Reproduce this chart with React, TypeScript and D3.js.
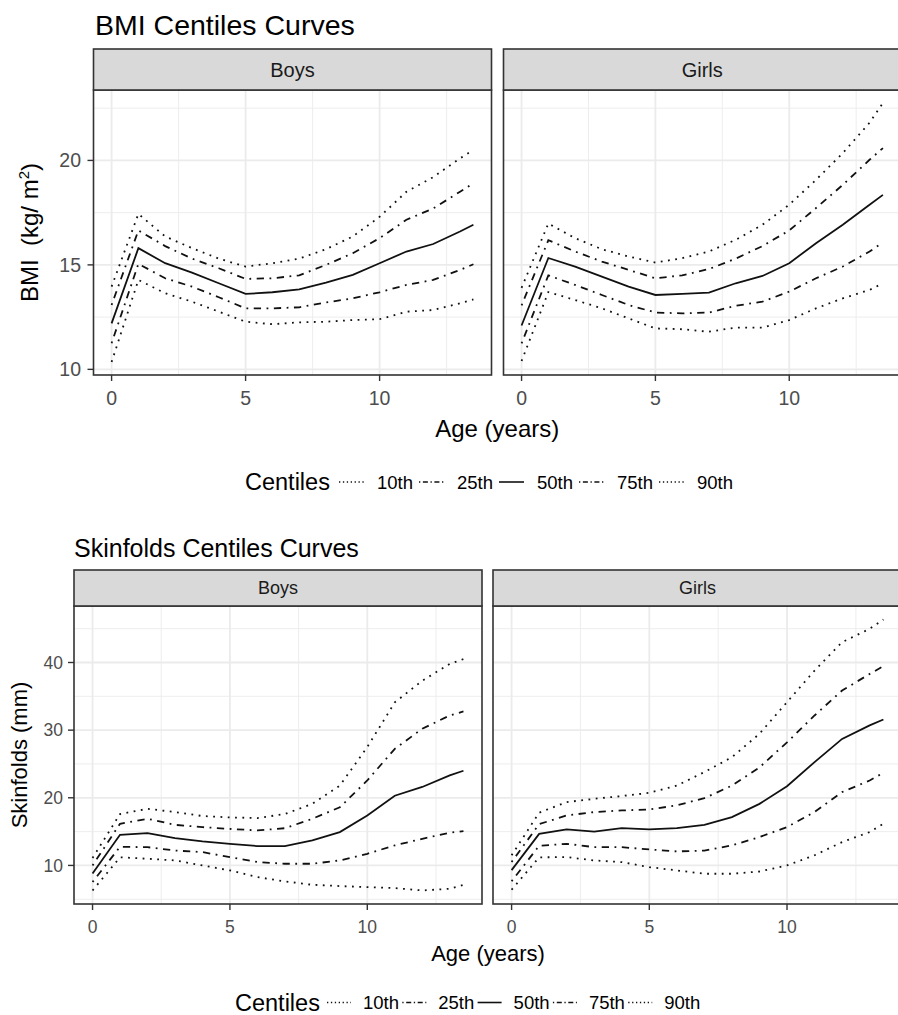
import React from 'react';
import * as d3 from 'd3';

const ages = [0, 1, 2, 3, 4, 5, 6, 7, 8, 9, 10, 11, 12, 13, 13.5];
const centiles = ['10th', '25th', '50th', '75th', '90th'];
const sexes = ['Boys', 'Girls'];
const ageTicks = [0, 5, 10];
const bmiTicks = [10, 15, 20];
const skinTicks = [10, 20, 30, 40];

// BMI (kg/m2), boys
const bmiBoys10 = [10.35, 14.28, 13.64, 13.24, 12.76, 12.28, 12.16, 12.25, 12.28, 12.36, 12.4, 12.76, 12.84, 13.16, 13.35];
const bmiBoys25 = [11.25, 15.05, 14.36, 13.96, 13.45, 12.92, 12.92, 12.97, 13.2, 13.4, 13.69, 14.04, 14.28, 14.76, 15.03];
const bmiBoys50 = [12.2, 15.8, 15.08, 14.63, 14.12, 13.61, 13.69, 13.83, 14.15, 14.52, 15.08, 15.64, 16.0, 16.6, 16.92];
const bmiBoys75 = [13.08, 16.65, 15.9, 15.3, 14.84, 14.33, 14.36, 14.5, 15.0, 15.56, 16.28, 17.16, 17.7, 18.5, 18.9];
const bmiBoys90 = [13.96, 17.44, 16.36, 15.8, 15.3, 14.92, 15.08, 15.3, 15.75, 16.36, 17.3, 18.5, 19.2, 20.1, 20.5];

// BMI (kg/m2), girls
const bmiGirls10 = [10.4, 13.7, 13.32, 12.92, 12.44, 11.96, 11.92, 11.8, 12.0, 12.0, 12.36, 12.92, 13.4, 13.8, 14.12];
const bmiGirls25 = [11.24, 14.5, 14.04, 13.56, 13.08, 12.72, 12.68, 12.72, 13.04, 13.24, 13.72, 14.36, 14.92, 15.64, 16.07];
const bmiGirls50 = [12.1, 15.33, 14.92, 14.44, 13.96, 13.56, 13.61, 13.67, 14.12, 14.47, 15.08, 16.04, 16.92, 17.88, 18.35];
const bmiGirls75 = [13.06, 16.18, 15.64, 15.16, 14.76, 14.36, 14.5, 14.8, 15.3, 15.9, 16.65, 17.72, 18.83, 20.03, 20.59];
const bmiGirls90 = [13.9, 16.98, 16.28, 15.75, 15.4, 15.11, 15.32, 15.64, 16.2, 16.92, 17.88, 19.07, 20.35, 21.8, 22.75];

// Skinfolds (mm), boys
const skinBoys10 = [6.3, 11.2, 10.99, 10.74, 10.0, 9.26, 8.28, 7.64, 7.14, 6.95, 6.8, 6.65, 6.3, 6.55, 7.14];
const skinBoys25 = [7.55, 12.75, 12.7, 12.2, 11.97, 11.23, 10.5, 10.25, 10.25, 10.74, 11.72, 12.96, 13.94, 14.83, 15.07];
const skinBoys50 = [8.8, 14.53, 14.78, 14.04, 13.55, 13.2, 12.86, 12.86, 13.7, 14.93, 17.39, 20.3, 21.6, 23.3, 24.0];
const skinBoys75 = [10.0, 16.16, 16.9, 16.0, 15.66, 15.4, 15.17, 15.5, 16.9, 18.6, 22.56, 27.24, 30.2, 32.17, 32.76];
const skinBoys90 = [11.1, 17.6, 18.37, 17.9, 17.3, 17.1, 17.0, 17.6, 19.1, 21.8, 27.5, 34.1, 37.3, 39.8, 40.5];

// Skinfolds (mm), girls
const skinGirls10 = [6.4, 11.2, 11.23, 10.74, 10.49, 9.75, 9.26, 8.77, 8.77, 9.1, 10.0, 11.5, 13.45, 14.93, 16.16];
const skinGirls25 = [7.65, 12.9, 13.2, 12.7, 12.7, 12.36, 12.07, 12.2, 12.96, 14.19, 15.67, 17.9, 20.84, 22.56, 23.7];
const skinGirls50 = [9.3, 14.67, 15.32, 15.0, 15.5, 15.32, 15.5, 16.0, 17.14, 19.1, 21.7, 25.27, 28.7, 30.7, 31.58];
const skinGirls75 = [10.5, 16.1, 17.39, 17.88, 18.13, 18.28, 18.87, 19.95, 21.8, 24.5, 28.2, 32.17, 35.86, 38.3, 39.46];
const skinGirls90 = [11.5, 17.8, 19.36, 19.85, 20.25, 20.74, 21.8, 23.8, 26.0, 29.46, 34.14, 38.8, 43.0, 44.98, 46.35];

const FONT = '"Liberation Sans", Arial, sans-serif';

const dashFor = (c: string) =>
  c === '50th' ? undefined : c === '25th' || c === '75th' ? '1.8 5.5 7.3 5.5' : '1.8 5.5';
const keyDashFor = (c: string) =>
  c === '50th' ? undefined : c === '25th' || c === '75th' ? '1.3 2.6 5 2.6' : '1.3 2.6';

type Layout = {
  titleX: number; titleY: number; titleSize: number;
  stripTop: number; panelTop: number; panelBottom: number;
  panelsX: number[][];
  stripSize: number; tickSize: number;
  yLabelX: number; xLabelY: number;
  axisTitleSize: number; xTitleY: number; yTitleX: number;
  legendY: number; legendTitleX: number; legendKeyX: number; legendStep: number;
  legendKeyLen: number; legendTextDx: number;
};

const bmiLayout: Layout = {
  titleX: 95, titleY: 35, titleSize: 28.5,
  stripTop: 49, panelTop: 90, panelBottom: 375,
  panelsX: [[93.5, 491.5], [503.5, 901]],
  stripSize: 20, tickSize: 19.5,
  yLabelX: 81, xLabelY: 405,
  axisTitleSize: 24, xTitleY: 437, yTitleX: 38,
  legendY: 482, legendTitleX: 245, legendKeyX: 339, legendStep: 80,
  legendKeyLen: 25, legendTextDx: 38,
};

const skinLayout: Layout = {
  titleX: 74, titleY: 557, titleSize: 25,
  stripTop: 570, panelTop: 606, panelBottom: 904,
  panelsX: [[74, 482], [493, 902]],
  stripSize: 18, tickSize: 17.5,
  yLabelX: 63, xLabelY: 933,
  axisTitleSize: 22, xTitleY: 961, yTitleX: 27,
  legendY: 1002.5, legendTitleX: 235, legendKeyX: 327, legendStep: 75.3,
  legendKeyLen: 24, legendTextDx: 36,
};

function CentileChart({ title, yTitle, series, yTicks, L }: {
  title: string; yTitle: React.ReactNode; series: number[][][]; yTicks: number[]; L: Layout;
}) {
  const all = series.flat(2);
  const [lo, hi] = d3.extent(all) as [number, number];
  const pad = (hi - lo) * 0.05;
  const y = d3.scaleLinear().domain([lo - pad, hi + pad]).range([L.panelBottom, L.panelTop]);
  const [a0, a1] = d3.extent(ages) as [number, number];
  const ap = (a1 - a0) * 0.05;

  const yStep = yTicks[1] - yTicks[0];
  const yMinor = [...yTicks.map((t) => t - yStep / 2), yTicks[yTicks.length - 1] + yStep / 2]
    .filter((v) => v > y.domain()[0] && v < y.domain()[1]);
  const aStep = ageTicks[1] - ageTicks[0];
  const aMinor = [...ageTicks.map((t) => t - aStep / 2), ageTicks[ageTicks.length - 1] + aStep / 2]
    .filter((v) => v > a0 - ap && v < a1 + ap);

  const midX = (L.panelsX[0][0] + L.panelsX[1][1]) / 2;
  const midY = (L.panelTop + L.panelBottom) / 2;

  return (
    <g fontFamily={FONT}>
      <text x={L.titleX} y={L.titleY} fontSize={L.titleSize} fill="#000">{title}</text>

      {series.map((lines, i) => {
        const [x0, x1] = L.panelsX[i];
        const x = d3.scaleLinear().domain([a0 - ap, a1 + ap]).range([x0, x1]);
        const line = d3.line<number>().x((_, j) => x(ages[j])).y((d) => y(d));
        return (
          <g key={sexes[i]}>
            <rect x={x0} y={L.panelTop} width={x1 - x0} height={L.panelBottom - L.panelTop} fill="#fff" />
            {yMinor.map((v) => (
              <line key={'ym' + v} x1={x0} x2={x1} y1={y(v)} y2={y(v)} stroke="#ebebeb" strokeWidth={0.9} />
            ))}
            {aMinor.map((v) => (
              <line key={'xm' + v} x1={x(v)} x2={x(v)} y1={L.panelTop} y2={L.panelBottom} stroke="#ebebeb" strokeWidth={0.9} />
            ))}
            {yTicks.map((v) => (
              <line key={'yM' + v} x1={x0} x2={x1} y1={y(v)} y2={y(v)} stroke="#ebebeb" strokeWidth={1.8} />
            ))}
            {ageTicks.map((v) => (
              <line key={'xM' + v} x1={x(v)} x2={x(v)} y1={L.panelTop} y2={L.panelBottom} stroke="#ebebeb" strokeWidth={1.8} />
            ))}
            {lines.map((vals, k) => (
              <path key={centiles[k]} d={line(vals) || ''} fill="none" stroke="#111"
                strokeWidth={1.8} strokeDasharray={dashFor(centiles[k])} />
            ))}
            <rect x={x0} y={L.panelTop} width={x1 - x0} height={L.panelBottom - L.panelTop}
              fill="none" stroke="#333" strokeWidth={1.6} />
            <rect x={x0} y={L.stripTop} width={x1 - x0} height={L.panelTop - L.stripTop}
              fill="#d9d9d9" stroke="#333" strokeWidth={1.6} />
            <text x={(x0 + x1) / 2} y={(L.stripTop + L.panelTop) / 2 + L.stripSize * 0.36}
              textAnchor="middle" fontSize={L.stripSize} fill="#1a1a1a">{sexes[i]}</text>
            {ageTicks.map((v) => (
              <g key={'xt' + v}>
                <line x1={x(v)} x2={x(v)} y1={L.panelBottom} y2={L.panelBottom + 6} stroke="#333" strokeWidth={1.4} />
                <text x={x(v)} y={L.xLabelY} textAnchor="middle" fontSize={L.tickSize} fill="#4d4d4d">{v}</text>
              </g>
            ))}
            {i === 0 && yTicks.map((v) => (
              <g key={'yt' + v}>
                <line x1={x0 - 6} x2={x0} y1={y(v)} y2={y(v)} stroke="#333" strokeWidth={1.4} />
                <text x={L.yLabelX} y={y(v) + L.tickSize * 0.36} textAnchor="end" fontSize={L.tickSize} fill="#4d4d4d">{v}</text>
              </g>
            ))}
          </g>
        );
      })}

      <text x={midX} y={L.xTitleY} textAnchor="middle" fontSize={L.axisTitleSize} fill="#000">Age (years)</text>
      <text transform={`translate(${L.yTitleX},${midY}) rotate(-90)`} textAnchor="middle"
        fontSize={L.axisTitleSize} fill="#000" style={{ whiteSpace: 'pre' }}>{yTitle}</text>

      <text x={L.legendTitleX} y={L.legendY + 23.5 * 0.36} fontSize={23.5} fill="#000">Centiles</text>
      {centiles.map((c, k) => {
        const kx = L.legendKeyX + k * L.legendStep;
        return (
          <g key={'lg' + c}>
            <line x1={kx} x2={kx + L.legendKeyLen} y1={L.legendY} y2={L.legendY} stroke="#111"
              strokeWidth={1.6} strokeDasharray={keyDashFor(c)} />
            <text x={kx + L.legendTextDx} y={L.legendY + 18.5 * 0.36} fontSize={18.5} fill="#000">{c}</text>
          </g>
        );
      })}
    </g>
  );
}

export default function App() {
  const bmiSeries = [
    [bmiBoys10, bmiBoys25, bmiBoys50, bmiBoys75, bmiBoys90],
    [bmiGirls10, bmiGirls25, bmiGirls50, bmiGirls75, bmiGirls90],
  ];
  const skinSeries = [
    [skinBoys10, skinBoys25, skinBoys50, skinBoys75, skinBoys90],
    [skinGirls10, skinGirls25, skinGirls50, skinGirls75, skinGirls90],
  ];
  return (
    <svg width={898} height={1015} style={{ position: 'absolute', left: 0, top: 0, background: '#fff' }}>
      <CentileChart
        title="BMI Centiles Curves"
        yTitle={<>{'BMI  (kg/ m'}<tspan fontSize={15} dy={-9}>2</tspan><tspan dy={9}>)</tspan></>}
        series={bmiSeries}
        yTicks={bmiTicks}
        L={bmiLayout}
      />
      <CentileChart
        title="Skinfolds Centiles Curves"
        yTitle="Skinfolds (mm)"
        series={skinSeries}
        yTicks={skinTicks}
        L={skinLayout}
      />
    </svg>
  );
}
